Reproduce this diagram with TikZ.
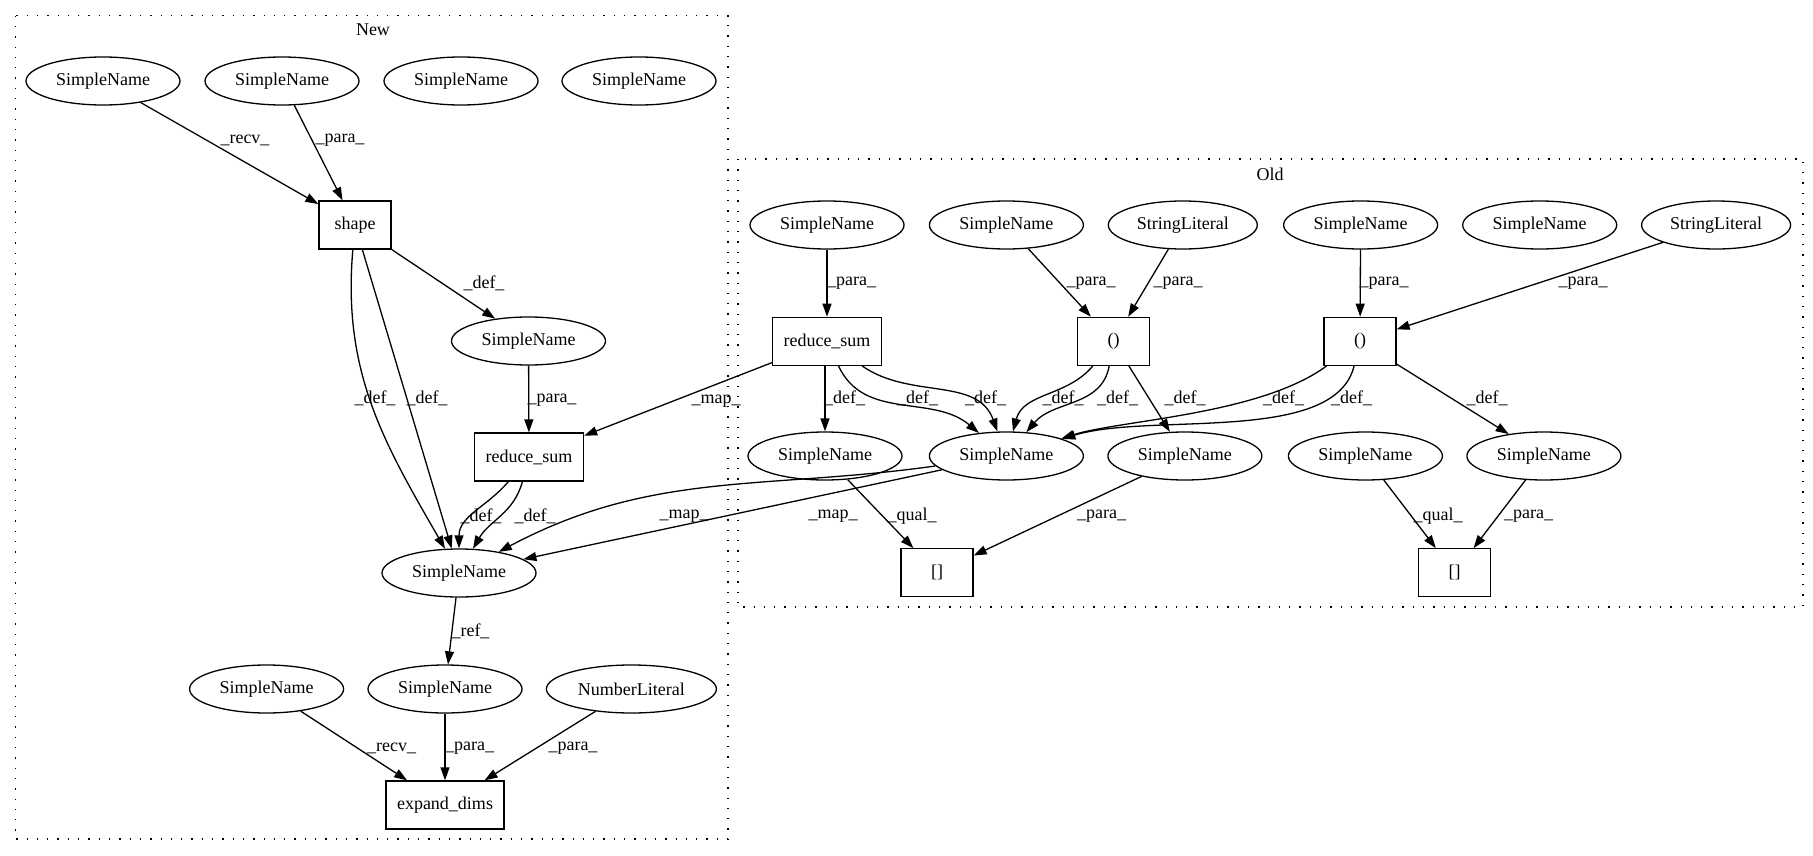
\documentclass[tikz,border=0pt]{standalone}
\usepackage{fontspec}
\setmainfont{Liberation Serif}
\usetikzlibrary{shapes.geometric,arrows.meta}

\begin{document}
\begin{tikzpicture}[x=1pt, y=-1pt,
    every node/.style={font=\fontsize{18}{21}\selectfont},
    sn/.style={draw, ellipse, line width=1.3pt, minimum width=154pt, minimum height=48pt, inner sep=0pt},
    op/.style={draw, rectangle, line width=1.3pt, minimum width=72pt, minimum height=48pt, inner xsep=11pt},
    arr/.style={-{Triangle[length=13pt,width=9pt]}, line width=1.3pt},
    lbl/.style={inner sep=0pt},
    cluster/.style={line width=1.3pt, dash pattern=on 1.3pt off 9pt}]
    \useasboundingbox (0,0) rectangle (1813,856);
    % clusters
    \draw[cluster] (15.6,15.7) rectangle (728,839);
    \node[lbl] (newlbl) at (373,30) {New};
    \draw[cluster] (738,159) rectangle (1803,607);
    \node[lbl] (oldlbl) at (1270,174) {Old};

    % New
    \node[sn] (nsn1) at (103,81) {SimpleName};
    \node[sn] (nsn2) at (282,81) {SimpleName};
    \node[sn] (nsn3) at (461,81) {SimpleName};
    \node[sn] (nsn4) at (639,81) {SimpleName};
    \node[op] (nshape) at (355,225) {shape};
    \node[sn] (nsn5) at (528.5,341) {SimpleName};
    \node[op] (nrsum) at (529,457) {reduce\_sum};
    \node[sn] (nsnc) at (459,573) {SimpleName};
    \node[sn] (nsnb1) at (266.6,689) {SimpleName};
    \node[sn] (nsnb2) at (445,689) {SimpleName};
    \node[sn, minimum width=170pt] (nnum) at (631.4,689) {NumberLiteral};
    \node[op] (nexp) at (445,805) {expand\_dims};

    \draw[arr] (nsn1) -- (nshape);
    \node[lbl] at (245,140) {\_recv\_};
    \draw[arr] (nsn2) -- (nshape);
    \node[lbl] at (340,140) {\_para\_};
    \draw[arr] (nshape) -- (nsn5);
    \node[lbl] at (484,283) {\_def\_};
    \draw[arr] (nshape) to[out=-95, in=120] (nsnc);
    \node[lbl] at (375,398) {\_def\_};
    \draw[arr] (nshape) -- (nsnc);
    \node[lbl] at (427,398) {\_def\_};
    \draw[arr] (nsn5) -- (nrsum);
    \node[lbl] at (552,400) {\_para\_};
    \draw[arr] (nrsum) to[out=-130, in=90] (nsnc);
    \node[lbl] at (481,516) {\_def\_};
    \draw[arr] (nrsum) to[out=-105, in=60] (nsnc);
    \node[lbl] at (535,516) {\_def\_};
    \draw[arr] (nsnc) -- (nsnb2);
    \node[lbl] at (470.5,631) {\_ref\_};
    \draw[arr] (nsnb1) -- (nexp);
    \node[lbl] at (391.7,748) {\_recv\_};
    \draw[arr] (nsnb2) -- (nexp);
    \node[lbl] at (469.6,748) {\_para\_};
    \draw[arr] (nnum) -- (nexp);
    \node[lbl] at (573,748) {\_para\_};

    % Old
    \node[sn] (osn1) at (827,225) {SimpleName};
    \node[sn] (osn2) at (1006.4,225) {SimpleName};
    \node[sn, minimum width=149pt] (ostr1) at (1182.8,225) {StringLiteral};
    \node[sn] (osn3) at (1360.6,225) {SimpleName};
    \node[sn] (osn4) at (1539.7,225) {SimpleName};
    \node[sn, minimum width=149pt] (ostr2) at (1716.1,225) {StringLiteral};
    \node[op] (orsum) at (827,341.3) {reduce\_sum};
    \node[op] (ocall1) at (1113.5,341.3) {()};
    \node[op] (ocall2) at (1360,341.3) {()};
    \node[sn] (osna) at (825,456) {SimpleName};
    \node[sn] (osnm) at (1006.4,456) {SimpleName};
    \node[sn] (osnb) at (1184.9,456) {SimpleName};
    \node[sn] (osnc) at (1365.4,456) {SimpleName};
    \node[sn] (osnd) at (1543.9,456) {SimpleName};
    \node[op] (oidx1) at (937,572.8) {[]};
    \node[op] (oidx2) at (1454.7,572.8) {[]};

    \draw[arr] (osn1) -- (orsum);
    \node[lbl] at (851.5,283) {\_para\_};
    \draw[arr] (osn2) -- (ocall1);
    \node[lbl] at (1091,283) {\_para\_};
    \draw[arr] (ostr1) -- (ocall1);
    \node[lbl] at (1178,283) {\_para\_};
    \draw[arr] (osn3) -- (ocall2);
    \node[lbl] at (1384,283) {\_para\_};
    \draw[arr] (ostr2) -- (ocall2);
    \node[lbl] at (1583,283) {\_para\_};
    \draw[arr] (orsum.south -| osna) -- (osna);
    \node[lbl] at (844.6,398) {\_def\_};
    \draw[arr] (orsum) to[out=-65, in=140] (osnm);
    \node[lbl] at (917.5,398) {\_def\_};
    \draw[arr] (orsum) to[out=-35, in=110] (osnm);
    \node[lbl] at (985.6,398) {\_def\_};
    \draw[arr] (ocall1) to[out=-130, in=75] (osnm);
    \node[lbl] at (1063,398) {\_def\_};
    \draw[arr] (ocall1) to[out=-100, in=50] (osnm);
    \node[lbl] at (1117.5,398) {\_def\_};
    \draw[arr] (ocall1) -- (osnb);
    \node[lbl] at (1185,398) {\_def\_};
    \draw[arr] (ocall2) .. controls (1260,415) and (1120,420) .. (osnm);
    \node[lbl] at (1283.5,398) {\_def\_};
    \draw[arr] (ocall2) .. controls (1335,445) and (1150,412) .. (osnm);
    \node[lbl] at (1351.5,398) {\_def\_};
    \draw[arr] (ocall2) -- (osnd);
    \node[lbl] at (1487,398) {\_def\_};
    \draw[arr] (osna) -- (oidx1);
    \node[lbl] at (912,516) {\_qual\_};
    \draw[arr] (osnb) -- (oidx1);
    \node[lbl] at (1101.5,516) {\_para\_};
    \draw[arr] (osnc) -- (oidx2);
    \node[lbl] at (1438,516) {\_qual\_};
    \draw[arr] (osnd) -- (oidx2);
    \node[lbl] at (1528.6,516) {\_para\_};

    % mappings
    \draw[arr] (orsum) -- (nrsum);
    \node[lbl] at (716,401) {\_map\_};
    \draw[arr] (osnm) to[out=188, in=28] (nsnc);
    \node[lbl] at (684,516) {\_map\_};
    \draw[arr] (osnm) -- (nsnc);
    \node[lbl] at (833,516) {\_map\_};
\end{tikzpicture}
\end{document}
